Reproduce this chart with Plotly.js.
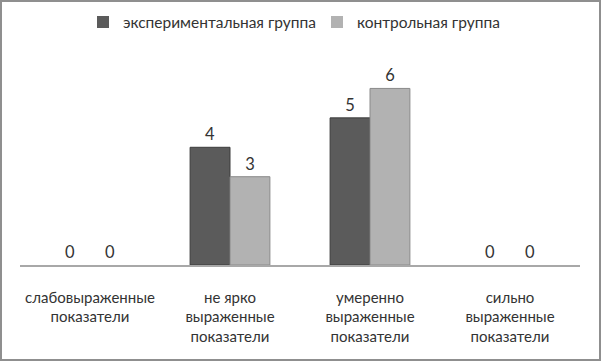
<!DOCTYPE html>
<html><head><meta charset="utf-8">
<script src="https://cdn.plot.ly/plotly-3.0.1.min.js"></script>
<style>
html,body{margin:0;padding:0;background:#fff;}
#wrap{position:absolute;left:0;top:0;width:601px;height:361px;box-sizing:border-box;border:2px solid #8f8f8f;background:#fff;}
#chart{width:597px;height:357px;}
</style></head>
<body><div id="wrap"><div id="chart"></div></div>
<script>
const categories = ["слабовыраженные<br>показатели", "не ярко<br>выраженные<br>показатели", "умеренно<br>выраженные<br>показатели", "сильно<br>выраженные<br>показатели"];
const seriesNames = ["экспериментальная группа", "контрольная группа"];
const experimental = [0, 4, 5, 0];
const control = [0, 3, 6, 0];

const font = "Lato, 'Open Sans', sans-serif";
const traces = [
  {type:"bar", name:seriesNames[0], x:categories, y:experimental, text:experimental.map(String),
   textposition:"outside", cliponaxis:false,
   textfont:{family:font,size:16.5,color:"#333"},
   marker:{color:"#5b5b5b", line:{color:"#3c3c3c", width:experimental.map(v => v ? 1 : 0)}}},
  {type:"bar", name:seriesNames[1], x:categories, y:control, text:control.map(String),
   textposition:"outside", cliponaxis:false,
   textfont:{family:font,size:16.5,color:"#333"},
   marker:{color:"#b2b2b2", line:{color:"#8a8a8a", width:control.map(v => v ? 1 : 0)}}}
];
const layout = {
  width:597, height:357,
  margin:{l:18, r:19, t:56.5, b:94, autoexpand:false},
  paper_bgcolor:"rgba(0,0,0,0)", plot_bgcolor:"rgba(0,0,0,0)",
  font:{family:font, size:15, color:"#333"},
  barmode:"group", bargap:0.43, bargroupgap:0,
  showlegend:true,
  legend:{orientation:"h", x:0.1125, xanchor:"left", y:1.177, yanchor:"middle",
          font:{family:font,size:15.5,color:"#333"}, entrywidth:189, itemwidth:30},
  xaxis:{showline:true, linecolor:"#a8a8a8", linewidth:1.5, ticks:"outside", ticklen:18, tickcolor:"rgba(0,0,0,0)",
         tickfont:{family:font,size:15,color:"#333"}, fixedrange:true},
  yaxis:{range:[0,7], visible:false, showgrid:false, zeroline:false}
};
Plotly.newPlot("chart", traces, layout, {displayModeBar:false, staticPlot:true});
</script>
</body></html>
